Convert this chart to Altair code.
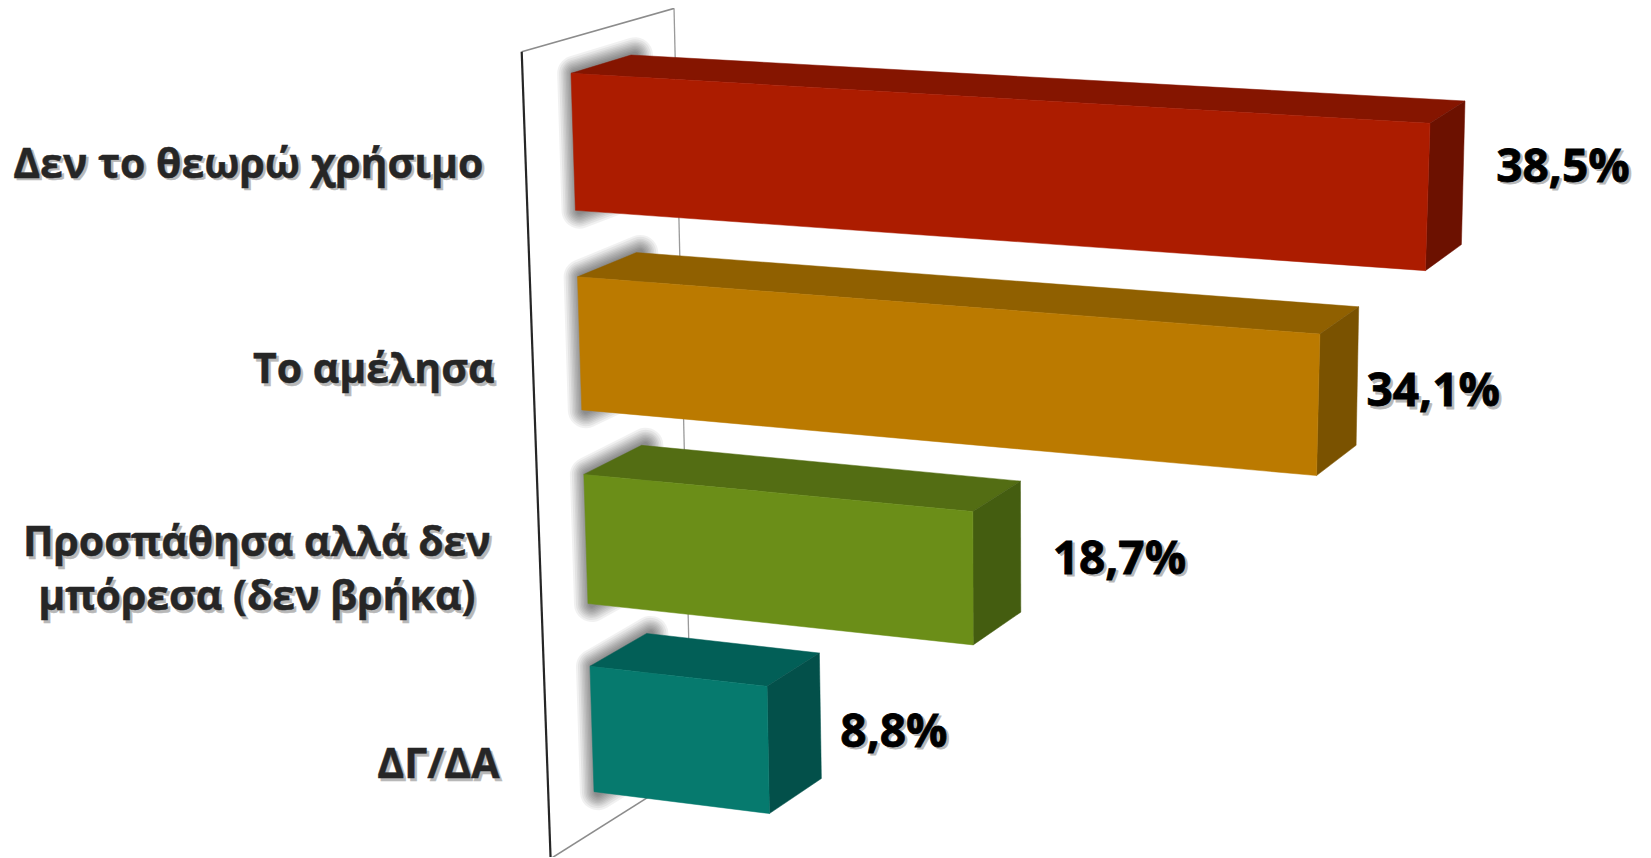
import altair as alt
import numpy as np
import pandas as pd

categories = ["Δεν το θεωρώ χρήσιμο", "Το αμέλησα", "Προσπάθησα αλλά δεν\nμπόρεσα (δεν βρήκα)", "ΔΓ/ΔΑ"]
values = [38.5, 34.1, 18.7, 8.8]
value_labels = ["38,5%", "34,1%", "18,7%", "8,8%"]
front_colors = ["#AC1C00", "#BB7A00", "#6B8E18", "#067A6E"]
top_colors = ["#851500", "#906000", "#536D13", "#025F57"]
side_colors = ["#6C1100", "#7A5200", "#445D10", "#03504A"]

W, H = 1635, 849
VMAX = 38.5
BAR = 0.67
UMAX = 3 + BAR
FRONT_ANCHORS = [(571, 73.3), (1430, 123.3), (594, 791.7), (1406, 893)]
BACK_ANCHORS = [(631, 55), (1465, 101), (650, 757), (1446, 857)]
WALL_U = (-0.17, 3.88)
WALL_D = (-0.8, 1.73)
LABEL_D = -1.35
LABEL_SHIFT_X = [1.5, -4, -18, -16]
LABEL_SHIFT_Y = [-4, -7.5, -36, -8.5]
VALUE_DX = [33, 9, 32, 20]
VALUE_DY = [-5, 16, 13, 17]
CHAR_W = 24.6


def homography(anchors):
    src = [(0, 0), (VMAX, 0), (0, UMAX), (VMAX, UMAX)]
    A, b = [], []
    for (s, t), (x, y) in zip(src, anchors):
        A.append([s, t, 1, 0, 0, 0, -s * x, -t * x]); b.append(x)
        A.append([0, 0, 0, s, t, 1, -s * y, -t * y]); b.append(y)
    return np.append(np.linalg.solve(np.array(A, float), np.array(b, float)), 1).reshape(3, 3)


HF, HB = homography(FRONT_ANCHORS), homography(BACK_ANCHORS)


def project(v, u, d):
    def one(M):
        p = M @ np.array([v, u, 1.0])
        return p[:2] / p[2]
    p = (1 - d) * one(HF) + d * one(HB)
    return float(p[0]) - 8, float(p[1]) - 8


def polygon_rows(name, color, corners):
    rows = []
    pts = list(corners) + [corners[0]]
    for i, c in enumerate(pts):
        x, y = project(*c)
        rows.append(dict(poly=name, color=color, i=i, x=x, y=y))
    return rows


face_rows, shadow_rows = [], []
for r, val in enumerate(values):
    t, b = r, r + BAR
    shadow_rows += polygon_rows(f"s{r}", "#000", [(0.2, t, 0), (0.2, t, 1), (0.2, b, 1), (0.2, b, 0)])
    face_rows += polygon_rows(f"{r}top", top_colors[r], [(0, t, 0), (0, t, 1), (val, t, 1), (val, t, 0)])
    face_rows += polygon_rows(f"{r}side", side_colors[r], [(val, t, 0), (val, t, 1), (val, b, 1), (val, b, 0)])
    face_rows += polygon_rows(f"{r}front", front_colors[r], [(0, t, 0), (val, t, 0), (val, b, 0), (0, b, 0)])
faces = pd.DataFrame(face_rows)
shadows = pd.DataFrame(shadow_rows)

xs = alt.X("x:Q", scale=alt.Scale(domain=[0, W], range=[0, W], nice=False, zero=False), axis=None)
ys = alt.Y("y:Q", scale=alt.Scale(domain=[0, H], range=[0, H], nice=False, zero=False), axis=None)


def wall_line(c1, c2, color, width):
    rows = []
    for i, c in enumerate((c1, c2)):
        x, y = project(*c)
        rows.append(dict(i=i, x=x, y=y))
    return alt.Chart(pd.DataFrame(rows)).mark_line(color=color, strokeWidth=width, clip=False).encode(
        x=xs, y=ys, order="i:Q")


ut, ub = WALL_U
df, db = WALL_D
layers = [
    wall_line((0, ut, db), (0, ub, db), "#9a9a9a", 1.3),
    wall_line((0, ut, df), (0, ut, db), "#8c8c8c", 1.6),
    wall_line((0, ub, df), (0, ub, db), "#8c8c8c", 1.6),
    wall_line((0, ut, df), (0, ub, df), "#262626", 2.2),
]

for width in (36, 32, 28, 25, 22, 19, 16, 13, 10, 7):
    layers.append(
        alt.Chart(shadows).mark_line(color="#000", opacity=0.055, strokeWidth=width, strokeJoin="round", strokeCap="round", clip=False).encode(
            x=xs, y=ys, order="i:Q", detail="poly:N")
    )

layers.append(
    alt.Chart(faces).mark_line(strokeWidth=0.5, clip=False).encode(
        x=xs, y=ys, order="i:Q", detail="poly:N",
        fill=alt.Fill("color:N", scale=None, legend=None),
        stroke=alt.Stroke("color:N", scale=None, legend=None),
    )
)

cat_rows, val_rows = [], []
for r, (cat, val, lab) in enumerate(zip(categories, values, value_labels)):
    x, y = project(0, r + BAR / 2, LABEL_D)
    half = max(len(s) for s in cat.split("\n")) * CHAR_W / 2
    cat_rows.append(dict(x=x - half + LABEL_SHIFT_X[r], y=y + LABEL_SHIFT_Y[r], t=cat))
    x1, y1 = project(val, r, 1)
    x2, y2 = project(val, r + BAR, 1)
    val_rows.append(dict(x=(x1 + x2) / 2 + VALUE_DX[r], y=(y1 + y2) / 2 + VALUE_DY[r], t=lab))
cat_df, val_df = pd.DataFrame(cat_rows), pd.DataFrame(val_rows)


def text_layer(df_, size, color, align, dx=0, dy=0, opacity=1.0, stroke=0.0):
    return alt.Chart(df_).mark_text(
        font="Open Sans", fontWeight="bold", fontSize=size, color=color, align=align, baseline="middle",
        lineBreak="\n", lineHeight=54, dx=dx, dy=dy, opacity=opacity, clip=False,
        stroke=color, strokeWidth=stroke,
    ).encode(x=xs, y=ys, text="t:N")


layers.append(text_layer(cat_df, 41, "#8a8a8a", "center", 2.5, 2.5, 0.6, 0.5))
layers.append(text_layer(val_df, 46, "#8a8a8a", "left", 2.5, 2.5, 0.6, 0.8))
layers.append(text_layer(cat_df, 41, "#262626", "center", stroke=0.5))
layers.append(text_layer(val_df, 46, "#000000", "left", stroke=0.8))

chart = alt.layer(*layers).properties(
    width=W, height=H, padding=0, autosize=alt.AutoSizeParams(type="none"), background="white"
).configure_view(stroke=None)

chart.save("out.html", embed_options={"renderer": "svg", "actions": False})
